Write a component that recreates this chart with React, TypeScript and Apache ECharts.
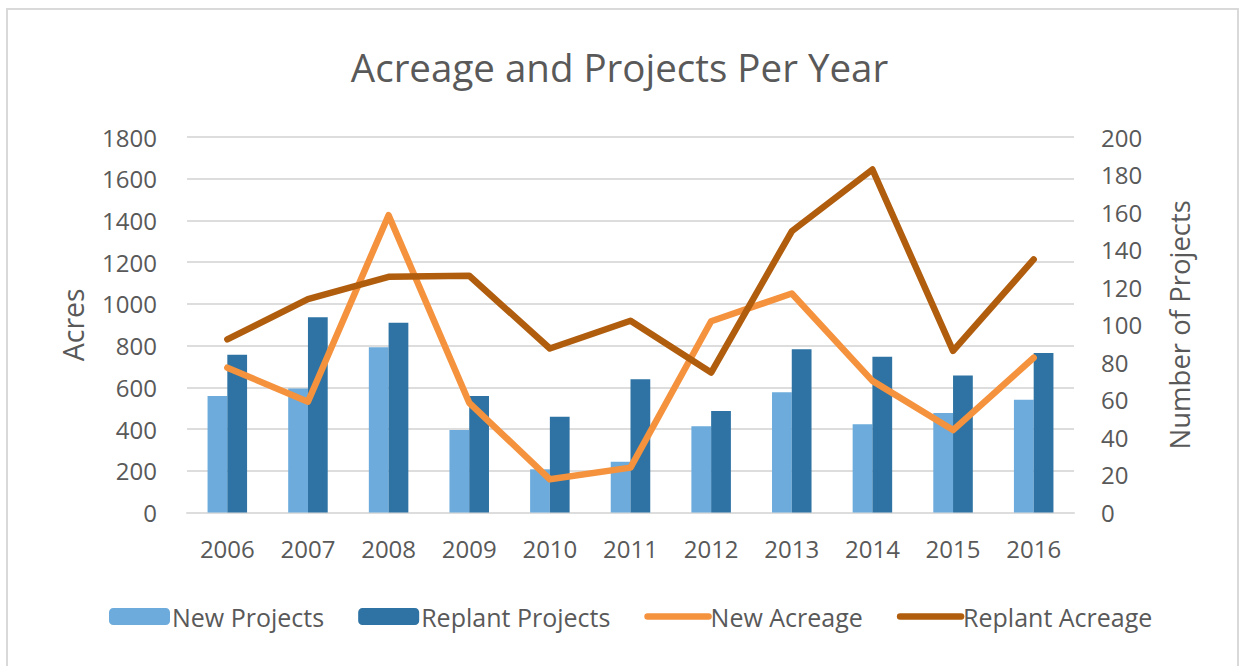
import React, { useEffect, useRef } from "react";
import * as echarts from "echarts";

const years = ["2006", "2007", "2008", "2009", "2010", "2011", "2012", "2013", "2014", "2015", "2016"];
const newProjects = [62, 66, 88, 44, 23, 27, 46, 64, 47, 53, 60];
const replantProjects = [84, 104, 101, 62, 51, 71, 54, 87, 83, 73, 85];
const newAcreage = [694, 531, 1425, 526, 159, 215, 917, 1050, 631, 395, 742];
const replantAcreage = [830, 1023, 1130, 1135, 786, 919, 671, 1348, 1644, 775, 1213];

const FONT = "Open Sans";
const TXT = "#595959";
const GRID = "#DDDDDD";

export default function App() {
  const ref = useRef<HTMLDivElement>(null);
  useEffect(() => {
    document.body.style.margin = "0";
    const chart = echarts.init(ref.current!, undefined, { renderer: "svg" });
    chart.setOption({
      animation: false,
      backgroundColor: "#ffffff",
      textStyle: { fontFamily: FONT, color: TXT },
      title: {
        text: "Acreage and Projects Per Year",
        left: "center",
        top: 42,
        textStyle: { fontFamily: FONT, fontSize: 38.5, fontWeight: "normal", color: TXT },
      },
      graphic: [
        {
          type: "rect",
          shape: { x: 7, y: 9, width: 1231, height: 680 },
          style: { fill: "none", stroke: "#D9D9D9", lineWidth: 2 },
          silent: true,
        },
      ],
      legend: {
        left: 104,
        top: 599,
        itemWidth: 61,
        itemHeight: 17,
        itemGap: 34,
        textStyle: { fontFamily: FONT, fontSize: 25, color: TXT, padding: [0, 0, 0, -3] },
        data: [
          "New Projects",
          "Replant Projects",
          { name: "New Acreage", itemStyle: { opacity: 0 }, lineStyle: { width: 6.5, cap: "round" } },
          { name: "Replant Acreage", itemStyle: { opacity: 0 }, lineStyle: { width: 6.5, cap: "round" } },
        ],
      },
      grid: { left: 187, right: 165, top: 137, bottom: 153.5 },
      xAxis: {
        type: "category",
        data: years,
        axisLine: { lineStyle: { color: GRID, width: 2 } },
        axisTick: { show: false },
        axisLabel: { fontFamily: FONT, fontSize: 24, color: TXT, margin: 24 },
      },
      yAxis: [
        {
          type: "value",
          min: 0,
          max: 1800,
          interval: 200,
          name: "Acres",
          nameLocation: "middle",
          nameGap: 100,
          nameTextStyle: { fontFamily: FONT, fontSize: 28.5, color: TXT },
          axisLine: { show: false },
          axisTick: { show: false },
          axisLabel: { fontFamily: FONT, fontSize: 24, color: TXT, margin: 30, formatter: (v: number) => String(v) },
          splitLine: { lineStyle: { color: GRID, width: 2 } },
        },
        {
          type: "value",
          min: 0,
          max: 200,
          interval: 20,
          name: "Number of Projects",
          nameLocation: "middle",
          nameGap: 91,
          nameTextStyle: { fontFamily: FONT, fontSize: 27.5, color: TXT },
          axisLine: { show: false },
          axisTick: { show: false },
          axisLabel: { fontFamily: FONT, fontSize: 24, color: TXT, margin: 27, formatter: (v: number) => String(v) },
          splitLine: { show: false },
        },
      ],
      series: [
        {
          name: "New Projects",
          type: "bar",
          yAxisIndex: 1,
          data: newProjects,
          barGap: "0%",
          barCategoryGap: "51%",
          itemStyle: { color: "#6CABDC" },
        },
        {
          name: "Replant Projects",
          type: "bar",
          yAxisIndex: 1,
          data: replantProjects,
          barGap: "0%",
          barCategoryGap: "51%",
          itemStyle: { color: "#2E73A3" },
        },
        {
          name: "New Acreage",
          type: "line",
          yAxisIndex: 0,
          data: newAcreage,
          symbol: "none",
          lineStyle: { color: "#F5923E", width: 6.5, cap: "round", join: "round" },
          itemStyle: { color: "#F5923E" },
        },
        {
          name: "Replant Acreage",
          type: "line",
          yAxisIndex: 0,
          data: replantAcreage,
          symbol: "none",
          lineStyle: { color: "#B15D0E", width: 6.5, cap: "round", join: "round" },
          itemStyle: { color: "#B15D0E" },
        },
      ],
    });
    return () => chart.dispose();
  }, []);
  return <div ref={ref} style={{ width: 1239, height: 666 }} />;
}
